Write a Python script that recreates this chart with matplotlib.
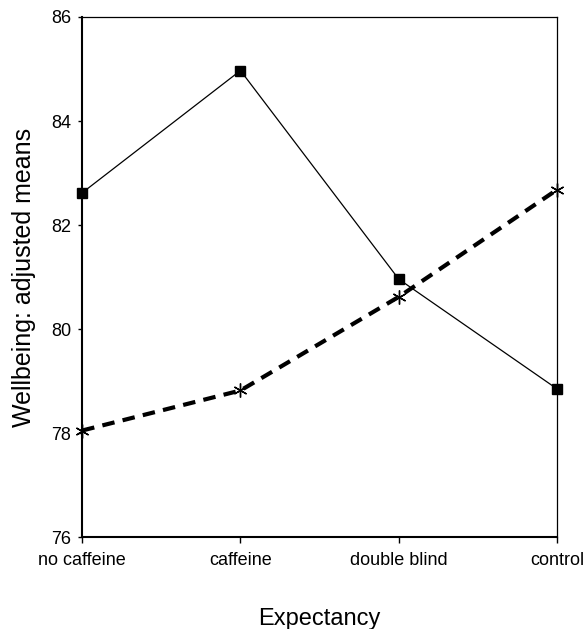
import matplotlib
matplotlib.use('Agg')
import matplotlib.pyplot as plt

plt.rcParams['font.family'] = ['Liberation Sans', 'DejaVu Sans']

categories = ['no caffeine', 'caffeine', 'double blind', 'control']
series_square = [82.62, 84.97, 80.96, 78.85]
series_star = [78.05, 78.82, 80.62, 82.68]
y_ticks = [76, 78, 80, 82, 84, 86]

fig = plt.figure(figsize=(5.87, 6.29), dpi=100)
ax = fig.add_axes([0.140, 0.146, 0.809, 0.827])

x = list(range(len(categories)))
ax.plot(x, series_square, color='black', linewidth=0.9,
        marker='s', markersize=6.5, markerfacecolor='black', clip_on=False)
ax.plot(x, series_star, color='black', linewidth=3.0, dashes=(3, 2),
        marker=(6, 2, 0), markersize=10, markeredgewidth=1.0, clip_on=False)

ax.set_xlim(0, len(categories) - 1)
ax.set_ylim(76, 86)
ax.set_xticks(x)
ax.set_xticklabels(categories)
ax.set_yticks(y_ticks)
ax.tick_params(axis='both', direction='out', width=1,
               labelsize=13, colors='black')
ax.tick_params(axis='x', length=4, pad=7)
ax.tick_params(axis='y', length=3, pad=5)

for side in ['left', 'bottom']:
    ax.spines[side].set_linewidth(1.5)
for side in ['top', 'right']:
    ax.spines[side].set_linewidth(0.9)

ax.set_xlabel('Expectancy', fontsize=17, labelpad=28)
ax.set_ylabel('Wellbeing: adjusted means', fontsize=18, labelpad=11)

fig.savefig('out.png', dpi=100)
